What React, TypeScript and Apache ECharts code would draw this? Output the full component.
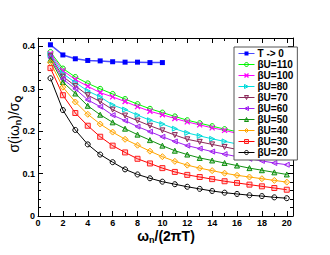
import React, { useEffect, useRef } from "react";
import * as echarts from "echarts";

const xT0 = [1, 2, 3, 4, 5, 6, 7, 8, 9, 10];
const xN = [1, 2, 3, 4, 5, 6, 7, 8, 9, 10, 11, 12, 13, 14, 15, 16, 17, 18, 19, 20];

const yT0 = [0.404, 0.380, 0.371, 0.367, 0.366, 0.364, 0.363, 0.363, 0.362, 0.362];
const yU110 = [0.387, 0.348, 0.328, 0.313, 0.300, 0.288, 0.276, 0.264, 0.253, 0.244, 0.235, 0.226, 0.219, 0.212, 0.205, 0.199, 0.193, 0.188, 0.183, 0.178];
const yU100 = [0.383, 0.343, 0.322, 0.306, 0.291, 0.281, 0.270, 0.258, 0.247, 0.239, 0.230, 0.222, 0.215, 0.208, 0.202, 0.195, 0.187, 0.180, 0.173, 0.167];
const yU80 = [0.380, 0.336, 0.315, 0.295, 0.281, 0.262, 0.251, 0.238, 0.226, 0.217, 0.206, 0.196, 0.189, 0.182, 0.176, 0.170, 0.165, 0.160, 0.155, 0.151];
const yU70 = [0.377, 0.329, 0.307, 0.285, 0.270, 0.251, 0.237, 0.225, 0.213, 0.202, 0.191, 0.181, 0.175, 0.169, 0.163, 0.157, 0.152, 0.147, 0.142, 0.138];
const yU60 = [0.373, 0.323, 0.300, 0.274, 0.258, 0.238, 0.225, 0.211, 0.199, 0.187, 0.176, 0.166, 0.159, 0.152, 0.146, 0.140, 0.135, 0.130, 0.125, 0.121];
const yU50 = [0.369, 0.316, 0.289, 0.260, 0.239, 0.221, 0.206, 0.192, 0.179, 0.166, 0.154, 0.145, 0.137, 0.131, 0.125, 0.119, 0.113, 0.108, 0.103, 0.098];
const yU40 = [0.362, 0.304, 0.269, 0.240, 0.217, 0.198, 0.181, 0.167, 0.153, 0.140, 0.129, 0.120, 0.113, 0.107, 0.101, 0.096, 0.092, 0.088, 0.084, 0.080];
const yU30 = [0.349, 0.285, 0.243, 0.213, 0.187, 0.166, 0.150, 0.135, 0.124, 0.113, 0.104, 0.097, 0.092, 0.087, 0.082, 0.078, 0.074, 0.070, 0.066, 0.062];
const yU20 = [0.325, 0.250, 0.203, 0.169, 0.145, 0.127, 0.110, 0.098, 0.089, 0.081, 0.075, 0.069, 0.064, 0.059, 0.055, 0.052, 0.049, 0.047, 0.044, 0.042];

const names = ["T -> 0", "βU=110", "βU=100", "βU=80", "βU=70", "βU=60", "βU=50", "βU=40", "βU=30", "βU=20"];

const FONT = "'Liberation Sans', Arial, sans-serif";

function pairs(xs: number[], ys: number[]) {
  return xs.map((x, i) => [x, ys[i]]);
}

function hexA(hex: string, a: number) {
  const n = parseInt(hex.slice(1), 16);
  return `rgba(${(n >> 16) & 255},${(n >> 8) & 255},${n & 255},${a})`;
}

export default function App() {
  const ref = useRef<HTMLDivElement>(null);
  useEffect(() => {
    if (!ref.current) return;
    const chart = echarts.init(ref.current, null, { renderer: "svg" });

    const specs = [
      { name: names[0], xs: xT0, ys: yT0, color: "#0000ff", line: "#4a4aff", symbol: "rect", rot: 0, fill: 1, size: 5 },
      { name: names[1], xs: xN, ys: yU110, color: "#00e000", line: "#00ff00", symbol: "circle", rot: 0, fill: 0.1, size: 5 },
      { name: names[2], xs: xN, ys: yU100, color: "#ff00ff", line: "#ff00ff", symbol: "path://M0,0L10,10M10,0L0,10", rot: 0, fill: -1, size: 5 },
      { name: names[3], xs: xN, ys: yU80, color: "#00d8d8", line: "#00e0e0", symbol: "triangle", rot: -90, fill: 0.15, size: 5 },
      { name: names[4], xs: xN, ys: yU70, color: "#8b2a5a", line: "#8b2a5a", symbol: "triangle", rot: 180, fill: 0.2, size: 5 },
      { name: names[5], xs: xN, ys: yU60, color: "#a020f0", line: "#a020f0", symbol: "triangle", rot: 90, fill: 0.2, size: 5 },
      { name: names[6], xs: xN, ys: yU50, color: "#109010", line: "#109010", symbol: "triangle", rot: 0, fill: 0.35, size: 5 },
      { name: names[7], xs: xN, ys: yU40, color: "#ffa500", line: "#ffa500", symbol: "diamond", rot: 0, fill: 0.2, size: 6 },
      { name: names[8], xs: xN, ys: yU30, color: "#ff2020", line: "#ff0000", symbol: "rect", rot: 0, fill: 0.2, size: 5 },
      { name: names[9], xs: xN, ys: yU20, color: "#000000", line: "#000000", symbol: "circle", rot: 0, fill: 0, size: 5 },
    ];

    const itemStyleOf = (s: any) => ({
      color: s.fill >= 1 || s.fill < 0 ? s.color : hexA(s.color, s.fill),
      borderColor: s.color,
      borderWidth: s.fill >= 1 ? 0 : s.fill < 0 ? 1.3 : 1,
    });

    const series = specs.map((s) => ({
      name: s.name,
      type: "line",
      xAxisIndex: 0,
      yAxisIndex: 0,
      data: pairs(s.xs, s.ys),
      symbol: s.symbol,
      symbolSize: s.size,
      symbolRotate: s.rot,
      showAllSymbol: true,
      lineStyle: { color: s.line, width: s.name === names[0] ? 1.5 : 1 },
      itemStyle: itemStyleOf(s),
      emphasis: { disabled: true },
      z: 2,
    }));

    const axisCommonX = {
      type: "value",
      min: 0,
      max: 20.5,
      interval: 2,
      axisLine: { show: true, onZero: false, lineStyle: { color: "#000", width: 1 } },
      axisTick: { show: true, inside: true, length: 5, lineStyle: { color: "#000" } },
      minorTick: { show: true, splitNumber: 2, length: 3, lineStyle: { color: "#000" } },
      splitLine: { show: false },
      minorSplitLine: { show: false },
    };
    const axisCommonY = {
      type: "value",
      min: 0,
      max: 0.42,
      interval: 0.1,
      axisLine: { show: true, onZero: false, lineStyle: { color: "#000", width: 1 } },
      axisTick: { show: true, inside: true, length: 5, lineStyle: { color: "#000" } },
      minorTick: { show: true, splitNumber: 5, length: 3, lineStyle: { color: "#000" } },
      splitLine: { show: false },
      minorSplitLine: { show: false },
    };

    chart.setOption({
      animation: false,
      backgroundColor: "#fff",
      grid: { left: 38, right: 37, top: 38, bottom: 39, containLabel: false },
      xAxis: [
        {
          ...axisCommonX,
          position: "bottom",
          axisLabel: {
            show: true,
            showMaxLabel: false,
            margin: 2,
            fontSize: 9,
            fontWeight: "bold",
            fontFamily: FONT,
            color: "#000",
          },
        },
        { ...axisCommonX, position: "top", axisLabel: { show: false } },
      ],
      yAxis: [
        {
          ...axisCommonY,
          position: "left",
          axisLabel: {
            show: true,
            showMaxLabel: false,
            margin: 3,
            fontSize: 9,
            fontWeight: "bold",
            fontFamily: FONT,
            color: "#000",
            formatter: (v: number) => (v === 0 ? "0" : String(Math.round(v * 10) / 10)),
          },
        },
        { ...axisCommonY, position: "right", axisLabel: { show: false } },
      ],
      legend: {
        orient: "vertical",
        left: 234,
        top: 47,
        data: specs.map((s) => ({
          name: s.name,
          itemStyle: itemStyleOf(s),
          lineStyle: { color: s.line, width: 1 },
        })),
        itemWidth: 16,
        itemHeight: 5,
        itemGap: 0,
        padding: [1, 4, 2, 4],
        backgroundColor: "#fff",
        borderColor: "#555",
        borderWidth: 1,
        borderRadius: 0,
        selectedMode: false,
        textStyle: {
          fontSize: 10,
          fontWeight: "bold",
          fontFamily: FONT,
          color: "#000",
          lineHeight: 11,
          padding: [0, 0, 0, -2],
        },
        z: 10,
      },
      graphic: [
        {
          type: "text",
          x: 14,
          y: 124,
          rotation: Math.PI / 2,
          style: {
            text: "{g|σ(iω}{s|n}{g|)/σ}{s|Q}",
            align: "center",
            verticalAlign: "middle",
            fill: "#000",
            rich: {
              g: { fontSize: 14, fontFamily: FONT, fill: "#000" },
              s: { fontSize: 9, fontWeight: "bold", fontFamily: FONT, fill: "#000", padding: [8, 0, 0, 0] },
            },
          },
        },
        {
          type: "text",
          x: 166,
          y: 236,
          style: {
            text: "{g|ω}{s|n}{g|/(2πT)}",
            align: "center",
            verticalAlign: "middle",
            fill: "#000",
            rich: {
              g: { fontSize: 14, fontWeight: "bold", fontFamily: FONT, fill: "#000" },
              s: { fontSize: 9, fontWeight: "bold", fontFamily: FONT, fill: "#000", padding: [8, 0, 0, 0] },
            },
          },
        },
      ],
      series,
    });

    return () => chart.dispose();
  }, []);

  return <div ref={ref} style={{ position: "fixed", left: 0, top: 0, width: 330, height: 255 }} />;
}
